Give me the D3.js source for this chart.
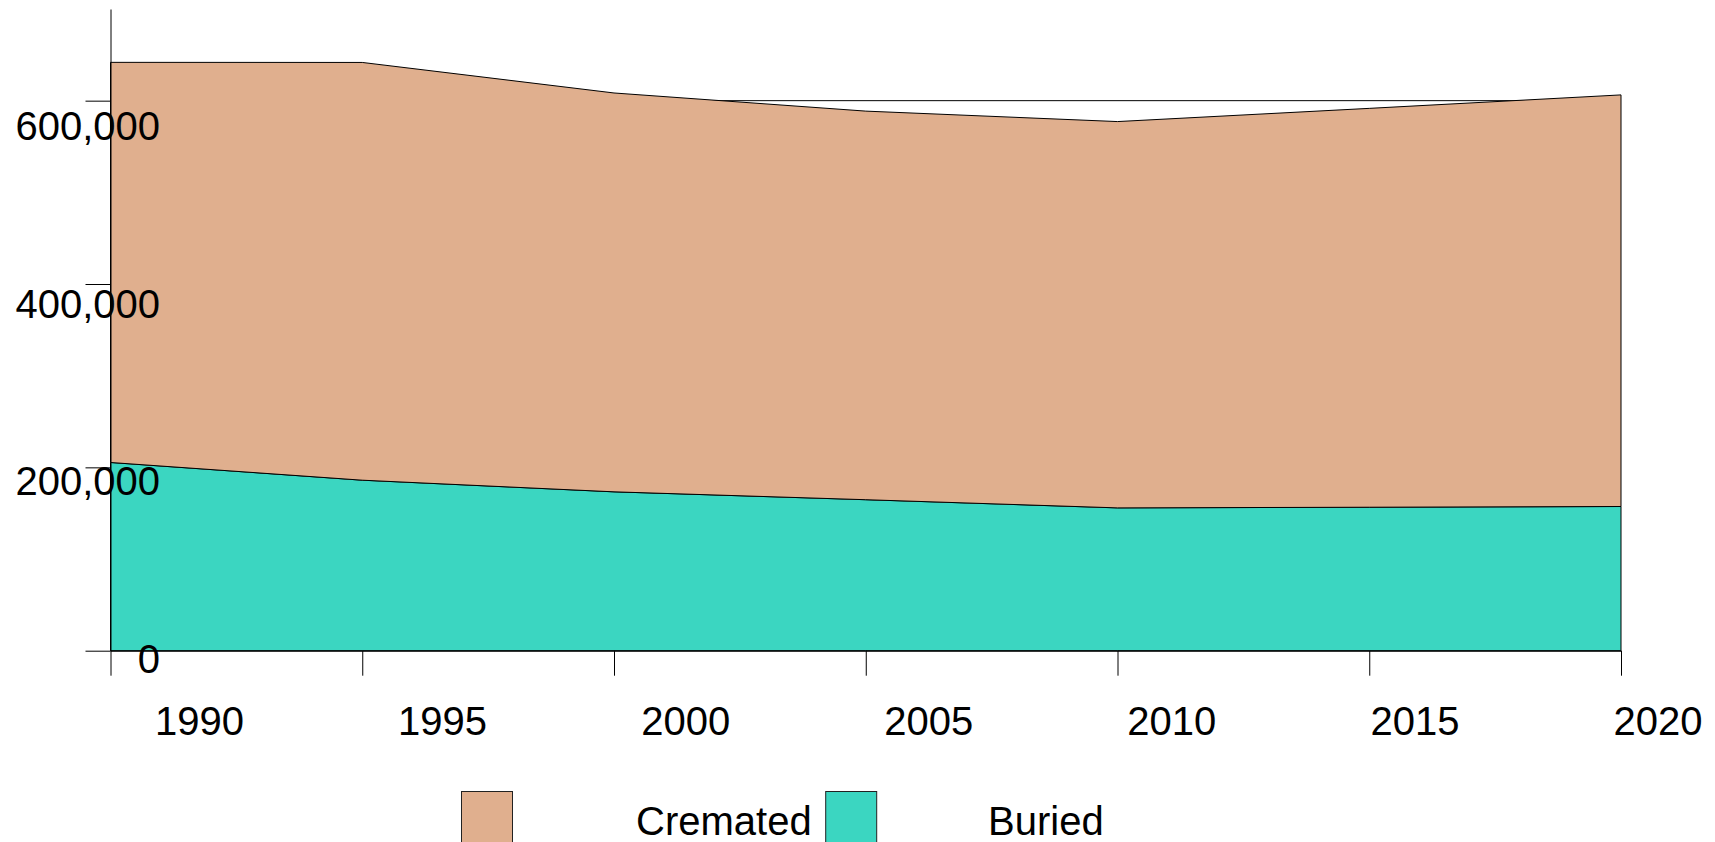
<!DOCTYPE html>
<html>
<head>
<meta charset="utf-8">
<script src="https://cdn.jsdelivr.net/npm/d3@7"></script>
<style>
  html, body { margin: 0; padding: 0; background: #fff; }
  svg { display: block; font-family: "Liberation Sans", Arial, sans-serif; }
</style>
</head>
<body>
<svg id="chart" width="1715" height="842"></svg>
<script>
// data
const years = [1990, 1995, 2000, 2005, 2010, 2015, 2020];
const buried = [205300, 186000, 173300, 164700, 155800, 156500, 157300];
const cremated = [436500, 455700, 435100, 423900, 421400, 435100, 449000];
const yTicks = [0, 200000, 400000, 600000];
const seriesNames = ["Cremated", "Buried"];
const seriesColors = ["#e0af8e", "#3bd6c1"];

const svg = d3.select("#chart");

const x = d3.scaleLinear().domain([1990, 2020]).range([110.5, 1621]);
const y = d3.scaleLinear().domain([0, 700000]).range([650.7, 9]);

// labels sit on their own slightly tighter scales in the original
const xLab = d3.scaleLinear().domain([1990, 2020]).range([199.5, 1658]);
const yLab = d3.scaleLinear().domain([0, 600000]).range([672.7, 140]);

const rows = years.map((yr, i) => ({ year: yr, buried: buried[i], cremated: cremated[i] }));
const stacked = d3.stack().keys(["buried", "cremated"])(rows);

// gridlines (only the 600,000 one shows above the areas)
svg.append("g")
    .selectAll("line")
    .data(yTicks)
    .join("line")
    .attr("x1", x(1990))
    .attr("x2", x(2020))
    .attr("y1", d => y(d))
    .attr("y2", d => y(d))
    .attr("stroke", "#000")
    .attr("stroke-width", 1);

const area = d3.area()
    .x(d => x(d.data.year))
    .y0(d => y(d[0]))
    .y1(d => y(d[1]));

const colorOf = { buried: seriesColors[1], cremated: seriesColors[0] };

svg.append("g")
    .selectAll("path")
    .data(stacked)
    .join("path")
    .attr("d", area)
    .attr("fill", d => colorOf[d.key])
    .attr("stroke", "#000")
    .attr("stroke-width", 1)
    .attr("stroke-linejoin", "round");

// axes: lines and ticks from d3, labels placed separately
const yAxis = svg.append("g")
    .attr("transform", `translate(${x(1990)},0)`)
    .call(d3.axisLeft(y).tickValues(yTicks).tickSize(25).tickSizeOuter(0).tickFormat(""));
yAxis.selectAll("path, line").attr("stroke", "#000");

const xAxis = svg.append("g")
    .attr("transform", `translate(0,${y(0)})`)
    .call(d3.axisBottom(x).tickValues(years).tickSize(25).tickSizeOuter(0).tickFormat(""));
xAxis.selectAll("path, line").attr("stroke", "#000");

const fmt = d3.format(",");

svg.append("g")
    .selectAll("text")
    .data(yTicks)
    .join("text")
    .attr("x", 160)
    .attr("y", d => yLab(d))
    .attr("text-anchor", "end")
    .attr("font-size", 40)
    .attr("fill", "#000")
    .text(d => fmt(d));

svg.append("g")
    .selectAll("text")
    .data(years)
    .join("text")
    .attr("x", d => xLab(d))
    .attr("y", 735)
    .attr("text-anchor", "middle")
    .attr("font-size", 40)
    .attr("fill", "#000")
    .text(d => d);

// legend
const legendSwatchX = [461.5, 825.7];
const legendTextX = [636, 988];

const legend = svg.append("g");
legend.selectAll("rect")
    .data(seriesNames)
    .join("rect")
    .attr("x", (d, i) => legendSwatchX[i])
    .attr("y", 791.5)
    .attr("width", 51)
    .attr("height", 51)
    .attr("fill", (d, i) => seriesColors[i])
    .attr("stroke", "#222")
    .attr("stroke-width", 1);

legend.selectAll("text")
    .data(seriesNames)
    .join("text")
    .attr("x", (d, i) => legendTextX[i])
    .attr("y", 835)
    .attr("font-size", 40)
    .attr("fill", "#000")
    .text(d => d);
</script>
</body>
</html>
